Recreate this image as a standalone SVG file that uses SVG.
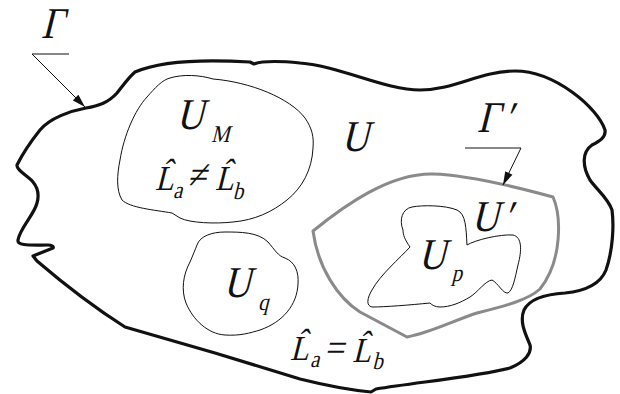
<svg xmlns="http://www.w3.org/2000/svg" width="620" height="394" viewBox="0 0 620 394">
<style>
.outer{fill:none;stroke:#111;stroke-width:3.2;stroke-linejoin:round;stroke-linecap:round}
.gray{fill:none;stroke:#8a8a8a;stroke-width:3;stroke-linejoin:round}
.thin{fill:none;stroke:#111;stroke-width:1}
.lead{fill:none;stroke:#111;stroke-width:1}
text{font-family:'Liberation Serif','Times New Roman',serif;font-style:normal;fill:#111;font-size:44px}
.mid{font-size:35px}
.sub{font-size:24px}
.op{font-size:40px}
</style>
<defs>
<marker id="ah" viewBox="0 0 10 6" refX="10" refY="3" markerWidth="14" markerHeight="8" markerUnits="userSpaceOnUse" orient="auto">
<path d="M0,0 L10,3 L0,6 z" fill="#111"/>
</marker>
</defs>
<g id="region-U">
<path class="outer" d="M86,108 C70,111 50,118 40,130 C32,140 22,155 17,165 C16,170 28,176 33,182 C38,188 39,196 37,203 C34,215 20,228 18,240 C17,246 30,245 48,245 C52,245 54,247 53,248 L33,256 L37,261 C65,285 95,308 125,327 L215,353 L300,379 C320,384 350,390 371,392 L376,389 C420,382 480,376 510,368 C525,362 532,353 530,345 C526,335 519,322 524,310 C530,298 548,294 565,293 C585,291 600,285 606,270 C613,250 614,225 612,210 C608,198 597,190 590,180 C582,166 582,152 592,145 C600,141 606,137 605,130 C598,108 555,71 515,71 C480,71 455,90 420,90 C385,90 340,66 300,63 C280,61 262,61 254,64 L250,62 C200,59 160,61 135,72 C128,78 122,87 117,93 C108,103 98,106 86,108 Z"/>
<text transform="translate(341,151) skewX(-14) scale(0.87,1)">U</text>
<text transform="translate(41,38) skewX(-14) scale(0.87,1)">Γ</text>
</g>
<g id="region-UM">
<path class="thin" d="M170,78 C183,74 200,75 213,79 C250,82 290,98 305,118 C312,128 314,137 313,148 C312,170 302,188 287,200 C272,212 255,220 233,222 C215,224 190,223 180,218 L172,213 C155,210 130,208 122,200 C116,190 117,175 120,160 C124,135 135,110 147,97 C155,88 162,80 170,78 Z"/>
<text transform="translate(176,129) skewX(-14) scale(0.87,1)"><tspan x="0" y="0">U</tspan><tspan class="sub" x="44" y="13">M</tspan></text>
<text transform="translate(155,190) skewX(-14) scale(0.87,1)"><tspan class="mid" x="0" y="0">L̂</tspan><tspan class="sub" x="23" y="8">a</tspan><tspan class="op" x="36" y="-2">≠</tspan><tspan class="mid" x="69" y="0">L̂</tspan><tspan class="sub" x="92" y="9">b</tspan></text>
</g>
<g id="region-Uq">
<path class="thin" d="M197,245 C200,236 212,232 225,232 C240,232 258,232 268,242 C275,250 278,256 285,258 C295,262 299,272 298,284 C297,305 283,322 260,330 C250,333 240,336 225,335 C208,334 193,320 186,303 C181,290 183,275 190,262 C193,255 195,250 197,245 Z"/>
<text transform="translate(223,297) skewX(-14) scale(0.87,1)"><tspan x="0" y="0">U</tspan><tspan class="sub" x="44" y="13">q</tspan></text>
</g>
<g id="region-Uprime">
<path class="gray" d="M313,231 C345,205 390,173 433,174 C470,175 520,188 553,197 C561,215 563,260 540,289 C528,300 505,306 477,313 C455,320 430,333 407,337 L360,312 C338,298 318,268 313,231 Z"/>
<text transform="translate(471,231) skewX(-14) scale(0.87,1)"><tspan x="0" y="0">U</tspan><tspan x="37" y="0">′</tspan></text>
<text transform="translate(477,132) skewX(-14) scale(0.87,1)"><tspan x="0" y="0">Γ</tspan><tspan x="31" y="0">′</tspan></text>
</g>
<g id="region-Up">
<path class="thin" d="M403,230 C399,220 402,209 412,207 C422,205 445,205 457,210 C466,214 466,228 467,245 C475,240 500,234 513,235 C522,237 522,250 518,265 C515,278 513,290 508,293 C503,294 498,283 492,280 C485,281 478,292 470,297 C460,303 450,307 440,307 C435,307 432,305 430,303 C410,305 385,307 372,307 C366,306 367,298 372,290 C380,275 400,258 410,247 C405,240 403,235 403,230 Z"/>
<text transform="translate(418,269) skewX(-14) scale(0.87,1)"><tspan x="0" y="0">U</tspan><tspan class="sub" x="42" y="12">p</tspan></text>
</g>
<g id="label-eq">
<text transform="translate(290,360) skewX(-14) scale(0.87,1)"><tspan class="mid" x="0" y="0">L̂</tspan><tspan class="sub" x="25" y="7">a</tspan><tspan class="op" x="39" y="1">=</tspan><tspan class="mid" x="72" y="2">L̂</tspan><tspan class="sub" x="97" y="9">b</tspan></text>
</g>
<g id="connectors">
<path class="lead" d="M69,54 H32 L85,107" marker-end="url(#ah)"/>
<path class="lead" d="M465,148 H521 L503,185" marker-end="url(#ah)"/>
</g>
</svg>
